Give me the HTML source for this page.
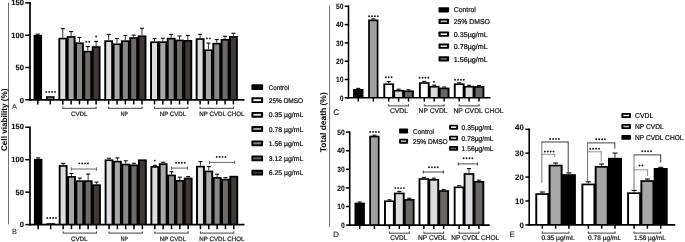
<!DOCTYPE html>
<html><head><meta charset="utf-8"><style>
html,body{margin:0;padding:0;background:#fff;}
body{width:685px;height:242px;overflow:hidden;}
svg{display:block;will-change:transform;text-rendering:geometricPrecision;font-family:"Liberation Sans", sans-serif;}
</style></head><body>
<svg width="685" height="242" viewBox="0 0 685 242">
<rect x="0" y="0" width="685" height="242" fill="#fff"/>
<line x1="8.50" y1="2.50" x2="8.50" y2="224.40" stroke="#707070" stroke-width="1.0"/>
<line x1="329.60" y1="5.30" x2="329.60" y2="227.00" stroke="#707070" stroke-width="1.0"/>
<line x1="37.80" y1="34.80" x2="37.80" y2="34.20" stroke="#333" stroke-width="1.0"/><line x1="35.80" y1="34.20" x2="39.80" y2="34.20" stroke="#111" stroke-width="1.15"/>
<rect x="33.55" y="34.80" width="8.50" height="65.00" fill="#000"/><rect x="46.00" y="96.20" width="8.60" height="3.60" fill="#000"/><rect x="58.38" y="37.75" width="8.83" height="62.05" fill="#000"/><rect x="66.71" y="36.10" width="8.83" height="63.70" fill="#000"/><rect x="75.04" y="42.40" width="8.83" height="57.40" fill="#000"/><rect x="83.37" y="50.80" width="8.83" height="49.00" fill="#000"/><rect x="91.70" y="46.20" width="8.83" height="53.60" fill="#000"/><rect x="104.28" y="40.30" width="8.83" height="59.50" fill="#000"/><rect x="112.61" y="43.40" width="8.83" height="56.40" fill="#000"/><rect x="120.94" y="40.30" width="8.83" height="59.50" fill="#000"/><rect x="129.28" y="37.20" width="8.83" height="62.60" fill="#000"/><rect x="137.61" y="35.40" width="8.83" height="64.40" fill="#000"/><rect x="150.09" y="41.40" width="8.83" height="58.40" fill="#000"/><rect x="158.42" y="41.30" width="8.83" height="58.50" fill="#000"/><rect x="166.75" y="37.80" width="8.83" height="62.00" fill="#000"/><rect x="175.08" y="39.60" width="8.83" height="60.20" fill="#000"/><rect x="183.41" y="40.00" width="8.83" height="59.80" fill="#000"/><rect x="195.69" y="38.20" width="8.83" height="61.60" fill="#000"/><rect x="204.02" y="49.40" width="8.83" height="50.40" fill="#000"/><rect x="212.34" y="42.80" width="8.83" height="57.00" fill="#000"/><rect x="220.68" y="38.90" width="8.83" height="60.90" fill="#000"/><rect x="229.00" y="36.10" width="8.83" height="63.70" fill="#000"/><rect x="47.50" y="97.70" width="5.60" height="2.10" fill="#777"/><rect x="60.28" y="39.40" width="5.03" height="60.40" fill="#dedede"/><rect x="68.61" y="37.75" width="5.03" height="62.05" fill="#a7a7a7"/><rect x="76.94" y="44.05" width="5.03" height="55.75" fill="#8a8787"/><rect x="85.27" y="52.45" width="5.03" height="47.35" fill="#6d6a69"/><rect x="93.61" y="47.85" width="5.03" height="51.95" fill="#403937"/><rect x="106.19" y="41.95" width="5.03" height="57.85" fill="#dedede"/><rect x="114.52" y="45.05" width="5.03" height="54.75" fill="#a7a7a7"/><rect x="122.84" y="41.95" width="5.03" height="57.85" fill="#8a8787"/><rect x="131.18" y="38.85" width="5.03" height="60.95" fill="#6d6a69"/><rect x="139.51" y="37.05" width="5.03" height="62.75" fill="#403937"/><rect x="151.99" y="43.05" width="5.03" height="56.75" fill="#dedede"/><rect x="160.32" y="42.95" width="5.03" height="56.85" fill="#a7a7a7"/><rect x="168.65" y="39.45" width="5.03" height="60.35" fill="#8a8787"/><rect x="176.98" y="41.25" width="5.03" height="58.55" fill="#6d6a69"/><rect x="185.31" y="41.65" width="5.03" height="58.15" fill="#403937"/><rect x="197.59" y="39.85" width="5.03" height="59.95" fill="#dedede"/><rect x="205.92" y="51.05" width="5.03" height="48.75" fill="#a7a7a7"/><rect x="214.25" y="44.45" width="5.03" height="55.35" fill="#8a8787"/><rect x="222.58" y="40.55" width="5.03" height="59.25" fill="#6d6a69"/><rect x="230.91" y="37.75" width="5.03" height="62.05" fill="#403937"/>
<line x1="62.80" y1="37.75" x2="62.80" y2="28.60" stroke="#333" stroke-width="1.0"/><line x1="60.80" y1="28.60" x2="64.80" y2="28.60" stroke="#111" stroke-width="1.15"/>
<line x1="71.13" y1="36.10" x2="71.13" y2="31.60" stroke="#333" stroke-width="1.0"/><line x1="69.13" y1="31.60" x2="73.13" y2="31.60" stroke="#111" stroke-width="1.15"/>
<line x1="79.46" y1="42.40" x2="79.46" y2="37.50" stroke="#333" stroke-width="1.0"/><line x1="77.46" y1="37.50" x2="81.46" y2="37.50" stroke="#111" stroke-width="1.15"/>
<line x1="87.79" y1="50.80" x2="87.79" y2="46.60" stroke="#333" stroke-width="1.0"/><line x1="85.79" y1="46.60" x2="89.79" y2="46.60" stroke="#111" stroke-width="1.15"/>
<line x1="96.12" y1="46.20" x2="96.12" y2="41.40" stroke="#333" stroke-width="1.0"/><line x1="94.12" y1="41.40" x2="98.12" y2="41.40" stroke="#111" stroke-width="1.15"/>
<line x1="108.70" y1="40.30" x2="108.70" y2="34.40" stroke="#333" stroke-width="1.0"/><line x1="106.70" y1="34.40" x2="110.70" y2="34.40" stroke="#111" stroke-width="1.15"/>
<line x1="117.03" y1="43.40" x2="117.03" y2="38.50" stroke="#333" stroke-width="1.0"/><line x1="115.03" y1="38.50" x2="119.03" y2="38.50" stroke="#111" stroke-width="1.15"/>
<line x1="125.36" y1="40.30" x2="125.36" y2="35.50" stroke="#333" stroke-width="1.0"/><line x1="123.36" y1="35.50" x2="127.36" y2="35.50" stroke="#111" stroke-width="1.15"/>
<line x1="133.69" y1="37.20" x2="133.69" y2="35.10" stroke="#333" stroke-width="1.0"/><line x1="131.69" y1="35.10" x2="135.69" y2="35.10" stroke="#111" stroke-width="1.15"/>
<line x1="142.02" y1="35.40" x2="142.02" y2="28.30" stroke="#333" stroke-width="1.0"/><line x1="140.02" y1="28.30" x2="144.02" y2="28.30" stroke="#111" stroke-width="1.15"/>
<line x1="154.50" y1="41.40" x2="154.50" y2="38.60" stroke="#333" stroke-width="1.0"/><line x1="152.50" y1="38.60" x2="156.50" y2="38.60" stroke="#111" stroke-width="1.15"/>
<line x1="162.83" y1="41.30" x2="162.83" y2="38.20" stroke="#333" stroke-width="1.0"/><line x1="160.83" y1="38.20" x2="164.83" y2="38.20" stroke="#111" stroke-width="1.15"/>
<line x1="171.16" y1="37.80" x2="171.16" y2="34.40" stroke="#333" stroke-width="1.0"/><line x1="169.16" y1="34.40" x2="173.16" y2="34.40" stroke="#111" stroke-width="1.15"/>
<line x1="179.49" y1="39.60" x2="179.49" y2="36.00" stroke="#333" stroke-width="1.0"/><line x1="177.49" y1="36.00" x2="181.49" y2="36.00" stroke="#111" stroke-width="1.15"/>
<line x1="187.82" y1="40.00" x2="187.82" y2="35.40" stroke="#333" stroke-width="1.0"/><line x1="185.82" y1="35.40" x2="189.82" y2="35.40" stroke="#111" stroke-width="1.15"/>
<line x1="200.10" y1="38.20" x2="200.10" y2="34.40" stroke="#333" stroke-width="1.0"/><line x1="198.10" y1="34.40" x2="202.10" y2="34.40" stroke="#111" stroke-width="1.15"/>
<line x1="208.43" y1="49.40" x2="208.43" y2="43.10" stroke="#333" stroke-width="1.0"/><line x1="206.43" y1="43.10" x2="210.43" y2="43.10" stroke="#111" stroke-width="1.15"/>
<line x1="216.76" y1="42.80" x2="216.76" y2="39.60" stroke="#333" stroke-width="1.0"/><line x1="214.76" y1="39.60" x2="218.76" y2="39.60" stroke="#111" stroke-width="1.15"/>
<line x1="225.09" y1="38.90" x2="225.09" y2="36.30" stroke="#333" stroke-width="1.0"/><line x1="223.09" y1="36.30" x2="227.09" y2="36.30" stroke="#111" stroke-width="1.15"/>
<line x1="233.42" y1="36.10" x2="233.42" y2="33.30" stroke="#333" stroke-width="1.0"/><line x1="231.42" y1="33.30" x2="235.42" y2="33.30" stroke="#111" stroke-width="1.15"/>
<line x1="30.00" y1="2.10" x2="30.00" y2="100.60" stroke="#000" stroke-width="1.7"/>
<line x1="29.20" y1="99.80" x2="244.50" y2="99.80" stroke="#000" stroke-width="1.7"/>
<line x1="25.30" y1="99.80" x2="30.00" y2="99.80" stroke="#000" stroke-width="1.5"/>
<text x="24.00" y="102.55" font-size="7.6" font-weight="bold" text-anchor="end" fill="#111" stroke="#111" stroke-width="0.12">0</text>
<line x1="25.30" y1="67.50" x2="30.00" y2="67.50" stroke="#000" stroke-width="1.5"/>
<text x="24.00" y="70.25" font-size="7.6" font-weight="bold" text-anchor="end" fill="#111" stroke="#111" stroke-width="0.12">50</text>
<line x1="25.30" y1="35.20" x2="30.00" y2="35.20" stroke="#000" stroke-width="1.5"/>
<text x="24.00" y="37.95" font-size="7.6" font-weight="bold" text-anchor="end" fill="#111" stroke="#111" stroke-width="0.12">100</text>
<line x1="25.30" y1="2.90" x2="30.00" y2="2.90" stroke="#000" stroke-width="1.5"/>
<text x="24.00" y="4.95" font-size="7.6" font-weight="bold" text-anchor="end" fill="#111" stroke="#111" stroke-width="0.12">150</text>
<line x1="37.80" y1="99.80" x2="37.80" y2="104.40" stroke="#000" stroke-width="1.5"/>
<line x1="50.30" y1="99.80" x2="50.30" y2="104.40" stroke="#000" stroke-width="1.5"/>
<line x1="62.80" y1="99.80" x2="62.80" y2="104.40" stroke="#000" stroke-width="1.5"/>
<line x1="71.13" y1="99.80" x2="71.13" y2="104.40" stroke="#000" stroke-width="1.5"/>
<line x1="79.46" y1="99.80" x2="79.46" y2="104.40" stroke="#000" stroke-width="1.5"/>
<line x1="87.79" y1="99.80" x2="87.79" y2="104.40" stroke="#000" stroke-width="1.5"/>
<line x1="96.12" y1="99.80" x2="96.12" y2="104.40" stroke="#000" stroke-width="1.5"/>
<line x1="108.70" y1="99.80" x2="108.70" y2="104.40" stroke="#000" stroke-width="1.5"/>
<line x1="117.03" y1="99.80" x2="117.03" y2="104.40" stroke="#000" stroke-width="1.5"/>
<line x1="125.36" y1="99.80" x2="125.36" y2="104.40" stroke="#000" stroke-width="1.5"/>
<line x1="133.69" y1="99.80" x2="133.69" y2="104.40" stroke="#000" stroke-width="1.5"/>
<line x1="142.02" y1="99.80" x2="142.02" y2="104.40" stroke="#000" stroke-width="1.5"/>
<line x1="154.50" y1="99.80" x2="154.50" y2="104.40" stroke="#000" stroke-width="1.5"/>
<line x1="162.83" y1="99.80" x2="162.83" y2="104.40" stroke="#000" stroke-width="1.5"/>
<line x1="171.16" y1="99.80" x2="171.16" y2="104.40" stroke="#000" stroke-width="1.5"/>
<line x1="179.49" y1="99.80" x2="179.49" y2="104.40" stroke="#000" stroke-width="1.5"/>
<line x1="187.82" y1="99.80" x2="187.82" y2="104.40" stroke="#000" stroke-width="1.5"/>
<line x1="200.10" y1="99.80" x2="200.10" y2="104.40" stroke="#000" stroke-width="1.5"/>
<line x1="208.43" y1="99.80" x2="208.43" y2="104.40" stroke="#000" stroke-width="1.5"/>
<line x1="216.76" y1="99.80" x2="216.76" y2="104.40" stroke="#000" stroke-width="1.5"/>
<line x1="225.09" y1="99.80" x2="225.09" y2="104.40" stroke="#000" stroke-width="1.5"/>
<line x1="233.42" y1="99.80" x2="233.42" y2="104.40" stroke="#000" stroke-width="1.5"/>
<line x1="62.80" y1="106.60" x2="62.80" y2="108.30" stroke="#444" stroke-width="1.0"/><line x1="96.12" y1="106.60" x2="96.12" y2="108.30" stroke="#444" stroke-width="1.0"/><line x1="62.30" y1="108.30" x2="96.62" y2="108.30" stroke="#444" stroke-width="1.0"/>
<text x="70.90" y="115.80" font-size="6.3" font-weight="normal" text-anchor="start" fill="#222" stroke="#222" stroke-width="0.22" textLength="16.60" lengthAdjust="spacingAndGlyphs">CVDL</text>
<line x1="108.70" y1="106.60" x2="108.70" y2="108.30" stroke="#444" stroke-width="1.0"/><line x1="142.02" y1="106.60" x2="142.02" y2="108.30" stroke="#444" stroke-width="1.0"/><line x1="108.20" y1="108.30" x2="142.52" y2="108.30" stroke="#444" stroke-width="1.0"/>
<text x="120.80" y="115.80" font-size="6.3" font-weight="normal" text-anchor="start" fill="#222" stroke="#222" stroke-width="0.22" textLength="7.10" lengthAdjust="spacingAndGlyphs">NP</text>
<line x1="154.50" y1="106.60" x2="154.50" y2="108.30" stroke="#444" stroke-width="1.0"/><line x1="187.82" y1="106.60" x2="187.82" y2="108.30" stroke="#444" stroke-width="1.0"/><line x1="154.00" y1="108.30" x2="188.32" y2="108.30" stroke="#444" stroke-width="1.0"/>
<text x="159.80" y="115.80" font-size="6.3" font-weight="normal" text-anchor="start" fill="#222" stroke="#222" stroke-width="0.22" textLength="26.30" lengthAdjust="spacingAndGlyphs">NP CVDL</text>
<line x1="200.10" y1="106.60" x2="200.10" y2="108.30" stroke="#444" stroke-width="1.0"/><line x1="233.42" y1="106.60" x2="233.42" y2="108.30" stroke="#444" stroke-width="1.0"/><line x1="199.60" y1="108.30" x2="233.92" y2="108.30" stroke="#444" stroke-width="1.0"/>
<text x="199.30" y="115.80" font-size="6.3" font-weight="normal" text-anchor="start" fill="#222" stroke="#222" stroke-width="0.22" textLength="45.20" lengthAdjust="spacingAndGlyphs">NP CVDL CHOL</text>
<circle cx="46.25" cy="91.90" r="0.95" fill="#1a1a1a"/><circle cx="49.15" cy="91.90" r="0.95" fill="#1a1a1a"/><circle cx="52.05" cy="91.90" r="0.95" fill="#1a1a1a"/><circle cx="54.95" cy="91.90" r="0.95" fill="#1a1a1a"/>
<circle cx="86.34" cy="41.70" r="0.95" fill="#1a1a1a"/><circle cx="89.24" cy="41.70" r="0.95" fill="#1a1a1a"/>
<circle cx="96.12" cy="36.40" r="0.95" fill="#1a1a1a"/>
<circle cx="206.98" cy="38.40" r="0.95" fill="#1a1a1a"/><circle cx="209.88" cy="38.40" r="0.95" fill="#1a1a1a"/>
<text x="12.00" y="109.00" font-size="7.3" font-weight="normal" text-anchor="start" fill="#555" stroke="#555" stroke-width="0.22">A</text>
<line x1="38.15" y1="158.90" x2="38.15" y2="157.90" stroke="#333" stroke-width="1.0"/><line x1="36.15" y1="157.90" x2="40.15" y2="157.90" stroke="#111" stroke-width="1.15"/>
<rect x="33.90" y="158.90" width="8.50" height="65.70" fill="#000"/><rect x="46.35" y="223.20" width="8.60" height="1.40" fill="#000"/><rect x="58.73" y="165.10" width="8.83" height="59.50" fill="#000"/><rect x="67.06" y="176.00" width="8.83" height="48.60" fill="#000"/><rect x="75.39" y="180.30" width="8.83" height="44.30" fill="#000"/><rect x="83.72" y="180.30" width="8.83" height="44.30" fill="#000"/><rect x="92.05" y="184.30" width="8.83" height="40.30" fill="#000"/><rect x="104.63" y="159.40" width="8.83" height="65.20" fill="#000"/><rect x="112.96" y="160.80" width="8.83" height="63.80" fill="#000"/><rect x="121.29" y="163.70" width="8.83" height="60.90" fill="#000"/><rect x="129.62" y="164.50" width="8.83" height="60.10" fill="#000"/><rect x="137.96" y="159.40" width="8.83" height="65.20" fill="#000"/><rect x="150.44" y="166.10" width="8.83" height="58.50" fill="#000"/><rect x="158.77" y="163.30" width="8.83" height="61.30" fill="#000"/><rect x="167.09" y="174.60" width="8.83" height="50.00" fill="#000"/><rect x="175.43" y="180.00" width="8.83" height="44.60" fill="#000"/><rect x="183.75" y="177.60" width="8.83" height="47.00" fill="#000"/><rect x="196.03" y="165.80" width="8.83" height="58.80" fill="#000"/><rect x="204.37" y="170.60" width="8.83" height="54.00" fill="#000"/><rect x="212.69" y="177.00" width="8.83" height="47.60" fill="#000"/><rect x="221.03" y="178.80" width="8.83" height="45.80" fill="#000"/><rect x="229.35" y="175.80" width="8.83" height="48.80" fill="#000"/><rect x="47.85" y="224.70" width="5.60" height="-0.10" fill="#777"/><rect x="60.63" y="166.75" width="5.03" height="57.85" fill="#dedede"/><rect x="68.96" y="177.65" width="5.03" height="46.95" fill="#a7a7a7"/><rect x="77.29" y="181.95" width="5.03" height="42.65" fill="#8a8787"/><rect x="85.62" y="181.95" width="5.03" height="42.65" fill="#6d6a69"/><rect x="93.95" y="185.95" width="5.03" height="38.65" fill="#403937"/><rect x="106.53" y="161.05" width="5.03" height="63.55" fill="#dedede"/><rect x="114.86" y="162.45" width="5.03" height="62.15" fill="#a7a7a7"/><rect x="123.19" y="165.35" width="5.03" height="59.25" fill="#8a8787"/><rect x="131.53" y="166.15" width="5.03" height="58.45" fill="#6d6a69"/><rect x="139.86" y="161.05" width="5.03" height="63.55" fill="#403937"/><rect x="152.34" y="167.75" width="5.03" height="56.85" fill="#dedede"/><rect x="160.67" y="164.95" width="5.03" height="59.65" fill="#a7a7a7"/><rect x="169.00" y="176.25" width="5.03" height="48.35" fill="#8a8787"/><rect x="177.33" y="181.65" width="5.03" height="42.95" fill="#6d6a69"/><rect x="185.66" y="179.25" width="5.03" height="45.35" fill="#403937"/><rect x="197.94" y="167.45" width="5.03" height="57.15" fill="#dedede"/><rect x="206.27" y="172.25" width="5.03" height="52.35" fill="#a7a7a7"/><rect x="214.59" y="178.65" width="5.03" height="45.95" fill="#8a8787"/><rect x="222.93" y="180.45" width="5.03" height="44.15" fill="#6d6a69"/><rect x="231.25" y="177.45" width="5.03" height="47.15" fill="#403937"/>
<line x1="63.15" y1="165.10" x2="63.15" y2="163.40" stroke="#333" stroke-width="1.0"/><line x1="61.15" y1="163.40" x2="65.15" y2="163.40" stroke="#111" stroke-width="1.15"/>
<line x1="71.48" y1="176.00" x2="71.48" y2="173.50" stroke="#333" stroke-width="1.0"/><line x1="69.48" y1="173.50" x2="73.48" y2="173.50" stroke="#111" stroke-width="1.15"/>
<line x1="79.81" y1="180.30" x2="79.81" y2="178.10" stroke="#333" stroke-width="1.0"/><line x1="77.81" y1="178.10" x2="81.81" y2="178.10" stroke="#111" stroke-width="1.15"/>
<line x1="88.14" y1="180.30" x2="88.14" y2="174.10" stroke="#333" stroke-width="1.0"/><line x1="86.14" y1="174.10" x2="90.14" y2="174.10" stroke="#111" stroke-width="1.15"/>
<line x1="96.47" y1="184.30" x2="96.47" y2="182.20" stroke="#333" stroke-width="1.0"/><line x1="94.47" y1="182.20" x2="98.47" y2="182.20" stroke="#111" stroke-width="1.15"/>
<line x1="109.05" y1="159.40" x2="109.05" y2="158.20" stroke="#333" stroke-width="1.0"/><line x1="107.05" y1="158.20" x2="111.05" y2="158.20" stroke="#111" stroke-width="1.15"/>
<line x1="117.38" y1="160.80" x2="117.38" y2="157.90" stroke="#333" stroke-width="1.0"/><line x1="115.38" y1="157.90" x2="119.38" y2="157.90" stroke="#111" stroke-width="1.15"/>
<line x1="125.71" y1="163.70" x2="125.71" y2="160.80" stroke="#333" stroke-width="1.0"/><line x1="123.71" y1="160.80" x2="127.71" y2="160.80" stroke="#111" stroke-width="1.15"/>
<line x1="134.04" y1="164.50" x2="134.04" y2="163.30" stroke="#333" stroke-width="1.0"/><line x1="132.04" y1="163.30" x2="136.04" y2="163.30" stroke="#111" stroke-width="1.15"/>
<line x1="154.85" y1="166.10" x2="154.85" y2="165.40" stroke="#333" stroke-width="1.0"/><line x1="152.85" y1="165.40" x2="156.85" y2="165.40" stroke="#111" stroke-width="1.15"/>
<line x1="163.18" y1="163.30" x2="163.18" y2="162.30" stroke="#333" stroke-width="1.0"/><line x1="161.18" y1="162.30" x2="165.18" y2="162.30" stroke="#111" stroke-width="1.15"/>
<line x1="171.51" y1="174.60" x2="171.51" y2="171.70" stroke="#333" stroke-width="1.0"/><line x1="169.51" y1="171.70" x2="173.51" y2="171.70" stroke="#111" stroke-width="1.15"/>
<line x1="179.84" y1="180.00" x2="179.84" y2="177.20" stroke="#333" stroke-width="1.0"/><line x1="177.84" y1="177.20" x2="181.84" y2="177.20" stroke="#111" stroke-width="1.15"/>
<line x1="188.17" y1="177.60" x2="188.17" y2="176.60" stroke="#333" stroke-width="1.0"/><line x1="186.17" y1="176.60" x2="190.17" y2="176.60" stroke="#111" stroke-width="1.15"/>
<line x1="200.45" y1="165.80" x2="200.45" y2="161.60" stroke="#333" stroke-width="1.0"/><line x1="198.45" y1="161.60" x2="202.45" y2="161.60" stroke="#111" stroke-width="1.15"/>
<line x1="208.78" y1="170.60" x2="208.78" y2="166.60" stroke="#333" stroke-width="1.0"/><line x1="206.78" y1="166.60" x2="210.78" y2="166.60" stroke="#111" stroke-width="1.15"/>
<line x1="217.11" y1="177.00" x2="217.11" y2="174.30" stroke="#333" stroke-width="1.0"/><line x1="215.11" y1="174.30" x2="219.11" y2="174.30" stroke="#111" stroke-width="1.15"/>
<line x1="225.44" y1="178.80" x2="225.44" y2="177.60" stroke="#333" stroke-width="1.0"/><line x1="223.44" y1="177.60" x2="227.44" y2="177.60" stroke="#111" stroke-width="1.15"/>
<line x1="30.00" y1="126.45" x2="30.00" y2="225.40" stroke="#000" stroke-width="1.7"/>
<line x1="29.20" y1="224.60" x2="244.50" y2="224.60" stroke="#000" stroke-width="1.7"/>
<line x1="25.30" y1="224.60" x2="30.00" y2="224.60" stroke="#000" stroke-width="1.5"/>
<text x="24.00" y="227.35" font-size="7.6" font-weight="bold" text-anchor="end" fill="#111" stroke="#111" stroke-width="0.12">0</text>
<line x1="25.30" y1="192.15" x2="30.00" y2="192.15" stroke="#000" stroke-width="1.5"/>
<text x="24.00" y="194.90" font-size="7.6" font-weight="bold" text-anchor="end" fill="#111" stroke="#111" stroke-width="0.12">50</text>
<line x1="25.30" y1="159.70" x2="30.00" y2="159.70" stroke="#000" stroke-width="1.5"/>
<text x="24.00" y="162.45" font-size="7.6" font-weight="bold" text-anchor="end" fill="#111" stroke="#111" stroke-width="0.12">100</text>
<line x1="25.30" y1="127.25" x2="30.00" y2="127.25" stroke="#000" stroke-width="1.5"/>
<text x="24.00" y="129.30" font-size="7.6" font-weight="bold" text-anchor="end" fill="#111" stroke="#111" stroke-width="0.12">150</text>
<line x1="38.15" y1="224.60" x2="38.15" y2="229.20" stroke="#000" stroke-width="1.5"/>
<line x1="50.65" y1="224.60" x2="50.65" y2="229.20" stroke="#000" stroke-width="1.5"/>
<line x1="63.15" y1="224.60" x2="63.15" y2="229.20" stroke="#000" stroke-width="1.5"/>
<line x1="71.48" y1="224.60" x2="71.48" y2="229.20" stroke="#000" stroke-width="1.5"/>
<line x1="79.81" y1="224.60" x2="79.81" y2="229.20" stroke="#000" stroke-width="1.5"/>
<line x1="88.14" y1="224.60" x2="88.14" y2="229.20" stroke="#000" stroke-width="1.5"/>
<line x1="96.47" y1="224.60" x2="96.47" y2="229.20" stroke="#000" stroke-width="1.5"/>
<line x1="109.05" y1="224.60" x2="109.05" y2="229.20" stroke="#000" stroke-width="1.5"/>
<line x1="117.38" y1="224.60" x2="117.38" y2="229.20" stroke="#000" stroke-width="1.5"/>
<line x1="125.71" y1="224.60" x2="125.71" y2="229.20" stroke="#000" stroke-width="1.5"/>
<line x1="134.04" y1="224.60" x2="134.04" y2="229.20" stroke="#000" stroke-width="1.5"/>
<line x1="142.37" y1="224.60" x2="142.37" y2="229.20" stroke="#000" stroke-width="1.5"/>
<line x1="154.85" y1="224.60" x2="154.85" y2="229.20" stroke="#000" stroke-width="1.5"/>
<line x1="163.18" y1="224.60" x2="163.18" y2="229.20" stroke="#000" stroke-width="1.5"/>
<line x1="171.51" y1="224.60" x2="171.51" y2="229.20" stroke="#000" stroke-width="1.5"/>
<line x1="179.84" y1="224.60" x2="179.84" y2="229.20" stroke="#000" stroke-width="1.5"/>
<line x1="188.17" y1="224.60" x2="188.17" y2="229.20" stroke="#000" stroke-width="1.5"/>
<line x1="200.45" y1="224.60" x2="200.45" y2="229.20" stroke="#000" stroke-width="1.5"/>
<line x1="208.78" y1="224.60" x2="208.78" y2="229.20" stroke="#000" stroke-width="1.5"/>
<line x1="217.11" y1="224.60" x2="217.11" y2="229.20" stroke="#000" stroke-width="1.5"/>
<line x1="225.44" y1="224.60" x2="225.44" y2="229.20" stroke="#000" stroke-width="1.5"/>
<line x1="233.77" y1="224.60" x2="233.77" y2="229.20" stroke="#000" stroke-width="1.5"/>
<line x1="63.15" y1="231.40" x2="63.15" y2="233.10" stroke="#444" stroke-width="1.0"/><line x1="96.47" y1="231.40" x2="96.47" y2="233.10" stroke="#444" stroke-width="1.0"/><line x1="62.65" y1="233.10" x2="96.97" y2="233.10" stroke="#444" stroke-width="1.0"/>
<text x="70.90" y="240.60" font-size="6.3" font-weight="normal" text-anchor="start" fill="#222" stroke="#222" stroke-width="0.22" textLength="16.60" lengthAdjust="spacingAndGlyphs">CVDL</text>
<line x1="109.05" y1="231.40" x2="109.05" y2="233.10" stroke="#444" stroke-width="1.0"/><line x1="142.37" y1="231.40" x2="142.37" y2="233.10" stroke="#444" stroke-width="1.0"/><line x1="108.55" y1="233.10" x2="142.87" y2="233.10" stroke="#444" stroke-width="1.0"/>
<text x="120.80" y="240.60" font-size="6.3" font-weight="normal" text-anchor="start" fill="#222" stroke="#222" stroke-width="0.22" textLength="7.10" lengthAdjust="spacingAndGlyphs">NP</text>
<line x1="154.85" y1="231.40" x2="154.85" y2="233.10" stroke="#444" stroke-width="1.0"/><line x1="188.17" y1="231.40" x2="188.17" y2="233.10" stroke="#444" stroke-width="1.0"/><line x1="154.35" y1="233.10" x2="188.67" y2="233.10" stroke="#444" stroke-width="1.0"/>
<text x="159.80" y="240.60" font-size="6.3" font-weight="normal" text-anchor="start" fill="#222" stroke="#222" stroke-width="0.22" textLength="26.30" lengthAdjust="spacingAndGlyphs">NP CVDL</text>
<line x1="200.45" y1="231.40" x2="200.45" y2="233.10" stroke="#444" stroke-width="1.0"/><line x1="233.77" y1="231.40" x2="233.77" y2="233.10" stroke="#444" stroke-width="1.0"/><line x1="199.95" y1="233.10" x2="234.27" y2="233.10" stroke="#444" stroke-width="1.0"/>
<text x="199.30" y="240.60" font-size="6.3" font-weight="normal" text-anchor="start" fill="#222" stroke="#222" stroke-width="0.22" textLength="45.20" lengthAdjust="spacingAndGlyphs">NP CVDL CHOL</text>
<circle cx="47.25" cy="218.00" r="0.95" fill="#1a1a1a"/><circle cx="50.15" cy="218.00" r="0.95" fill="#1a1a1a"/><circle cx="53.05" cy="218.00" r="0.95" fill="#1a1a1a"/><circle cx="55.95" cy="218.00" r="0.95" fill="#1a1a1a"/>
<line x1="71.30" y1="167.30" x2="71.30" y2="170.70" stroke="#555" stroke-width="0.9"/><line x1="96.60" y1="167.30" x2="96.60" y2="170.70" stroke="#555" stroke-width="0.9"/><line x1="71.30" y1="169.00" x2="96.60" y2="169.00" stroke="#555" stroke-width="0.9"/>
<circle cx="79.25" cy="163.40" r="0.95" fill="#1a1a1a"/><circle cx="82.15" cy="163.40" r="0.95" fill="#1a1a1a"/><circle cx="85.05" cy="163.40" r="0.95" fill="#1a1a1a"/><circle cx="87.95" cy="163.40" r="0.95" fill="#1a1a1a"/>
<circle cx="154.80" cy="160.60" r="0.95" fill="#1a1a1a"/>
<line x1="171.40" y1="166.40" x2="171.40" y2="169.80" stroke="#555" stroke-width="0.9"/><line x1="187.60" y1="166.40" x2="187.60" y2="169.80" stroke="#555" stroke-width="0.9"/><line x1="171.40" y1="168.10" x2="187.60" y2="168.10" stroke="#555" stroke-width="0.9"/>
<circle cx="176.05" cy="162.70" r="0.95" fill="#1a1a1a"/><circle cx="178.95" cy="162.70" r="0.95" fill="#1a1a1a"/><circle cx="181.85" cy="162.70" r="0.95" fill="#1a1a1a"/><circle cx="184.75" cy="162.70" r="0.95" fill="#1a1a1a"/>
<line x1="209.40" y1="160.70" x2="209.40" y2="164.10" stroke="#555" stroke-width="0.9"/><line x1="234.60" y1="160.70" x2="234.60" y2="164.10" stroke="#555" stroke-width="0.9"/><line x1="209.40" y1="162.40" x2="234.60" y2="162.40" stroke="#555" stroke-width="0.9"/>
<circle cx="216.75" cy="156.90" r="0.95" fill="#1a1a1a"/><circle cx="219.65" cy="156.90" r="0.95" fill="#1a1a1a"/><circle cx="222.55" cy="156.90" r="0.95" fill="#1a1a1a"/><circle cx="225.45" cy="156.90" r="0.95" fill="#1a1a1a"/>
<text x="12.00" y="234.10" font-size="7.3" font-weight="normal" text-anchor="start" fill="#555" stroke="#555" stroke-width="0.22">B</text>
<text transform="translate(7.0,119.8) rotate(-90)" font-size="8.3" font-weight="bold" text-anchor="middle" fill="#000" textLength="62.5" lengthAdjust="spacingAndGlyphs">Cell viability (%)</text>
<rect x="251.4" y="84.30" width="11.7" height="5.8" rx="0.9" fill="#000"/>
<text x="268.80" y="89.80" font-size="6.9" font-weight="normal" text-anchor="start" fill="#111" stroke="#111" stroke-width="0.22" textLength="20.30" lengthAdjust="spacingAndGlyphs">Control</text>
<rect x="251.4" y="97.30" width="11.7" height="5.8" rx="0.9" fill="#000"/>
<rect x="253.40" y="99.25" width="7.70" height="1.90" fill="#fff"/>
<text x="268.80" y="102.80" font-size="6.9" font-weight="normal" text-anchor="start" fill="#111" stroke="#111" stroke-width="0.22" textLength="34.40" lengthAdjust="spacingAndGlyphs">25% DMSO</text>
<rect x="251.4" y="111.90" width="11.7" height="5.8" rx="0.9" fill="#000"/>
<rect x="253.40" y="113.85" width="7.70" height="1.90" fill="#dedede"/>
<text x="268.80" y="117.40" font-size="6.9" font-weight="normal" text-anchor="start" fill="#111" stroke="#111" stroke-width="0.22" textLength="34.40" lengthAdjust="spacingAndGlyphs">0.35 &#181;g/mL</text>
<rect x="251.4" y="126.10" width="11.7" height="5.8" rx="0.9" fill="#000"/>
<rect x="253.40" y="128.05" width="7.70" height="1.90" fill="#a7a7a7"/>
<text x="268.80" y="131.60" font-size="6.9" font-weight="normal" text-anchor="start" fill="#111" stroke="#111" stroke-width="0.22" textLength="34.40" lengthAdjust="spacingAndGlyphs">0.78 &#181;g/mL</text>
<rect x="251.4" y="140.40" width="11.7" height="5.8" rx="0.9" fill="#000"/>
<rect x="253.40" y="142.35" width="7.70" height="1.90" fill="#8a8787"/>
<text x="268.80" y="145.90" font-size="6.9" font-weight="normal" text-anchor="start" fill="#111" stroke="#111" stroke-width="0.22" textLength="34.40" lengthAdjust="spacingAndGlyphs">1.56 &#181;g/mL</text>
<rect x="251.4" y="155.50" width="11.7" height="5.8" rx="0.9" fill="#000"/>
<rect x="253.40" y="157.45" width="7.70" height="1.90" fill="#6d6a69"/>
<text x="268.80" y="161.00" font-size="6.9" font-weight="normal" text-anchor="start" fill="#111" stroke="#111" stroke-width="0.22" textLength="34.40" lengthAdjust="spacingAndGlyphs">3.12 &#181;g/mL</text>
<rect x="251.4" y="169.80" width="11.7" height="5.8" rx="0.9" fill="#000"/>
<rect x="253.40" y="171.75" width="7.70" height="1.90" fill="#403937"/>
<text x="268.80" y="175.30" font-size="6.9" font-weight="normal" text-anchor="start" fill="#111" stroke="#111" stroke-width="0.22" textLength="34.40" lengthAdjust="spacingAndGlyphs">6.25 &#181;g/mL</text>
<line x1="358.25" y1="89.00" x2="358.25" y2="88.40" stroke="#333" stroke-width="1.0"/><line x1="356.25" y1="88.40" x2="360.25" y2="88.40" stroke="#111" stroke-width="1.15"/>
<line x1="373.30" y1="19.50" x2="373.30" y2="18.90" stroke="#333" stroke-width="1.0"/><line x1="371.30" y1="18.90" x2="375.30" y2="18.90" stroke="#111" stroke-width="1.15"/>
<rect x="353.05" y="89.00" width="10.40" height="8.80" fill="#000"/><rect x="368.15" y="19.50" width="10.30" height="78.30" fill="#000"/><rect x="383.32" y="83.40" width="10.75" height="14.40" fill="#000"/><rect x="393.22" y="89.90" width="10.75" height="7.90" fill="#000"/><rect x="403.12" y="90.40" width="10.75" height="7.40" fill="#000"/><rect x="418.93" y="82.20" width="10.75" height="15.60" fill="#000"/><rect x="428.82" y="85.90" width="10.75" height="11.90" fill="#000"/><rect x="438.73" y="87.60" width="10.75" height="10.20" fill="#000"/><rect x="453.82" y="83.40" width="10.75" height="14.40" fill="#000"/><rect x="463.72" y="85.90" width="10.75" height="11.90" fill="#000"/><rect x="473.62" y="86.10" width="10.75" height="11.70" fill="#000"/><rect x="369.85" y="21.20" width="6.90" height="76.60" fill="#a0a0a0"/><rect x="385.22" y="85.05" width="6.95" height="12.75" fill="#ffffff"/><rect x="395.12" y="91.55" width="6.95" height="6.25" fill="#dcdcdc"/><rect x="405.02" y="92.05" width="6.95" height="5.75" fill="#6a6664"/><rect x="420.82" y="83.85" width="6.95" height="13.95" fill="#ffffff"/><rect x="430.72" y="87.55" width="6.95" height="10.25" fill="#dcdcdc"/><rect x="440.62" y="89.25" width="6.95" height="8.55" fill="#6a6664"/><rect x="455.72" y="85.05" width="6.95" height="12.75" fill="#ffffff"/><rect x="465.62" y="87.55" width="6.95" height="10.25" fill="#dcdcdc"/><rect x="475.52" y="87.75" width="6.95" height="10.05" fill="#6a6664"/>
<line x1="388.70" y1="83.40" x2="388.70" y2="81.60" stroke="#333" stroke-width="1.0"/><line x1="386.70" y1="81.60" x2="390.70" y2="81.60" stroke="#111" stroke-width="1.15"/>
<line x1="398.60" y1="89.90" x2="398.60" y2="89.20" stroke="#333" stroke-width="1.0"/><line x1="396.60" y1="89.20" x2="400.60" y2="89.20" stroke="#111" stroke-width="1.15"/>
<line x1="408.50" y1="90.40" x2="408.50" y2="89.80" stroke="#333" stroke-width="1.0"/><line x1="406.50" y1="89.80" x2="410.50" y2="89.80" stroke="#111" stroke-width="1.15"/>
<line x1="424.30" y1="82.20" x2="424.30" y2="81.40" stroke="#333" stroke-width="1.0"/><line x1="422.30" y1="81.40" x2="426.30" y2="81.40" stroke="#111" stroke-width="1.15"/>
<line x1="434.20" y1="85.90" x2="434.20" y2="85.20" stroke="#333" stroke-width="1.0"/><line x1="432.20" y1="85.20" x2="436.20" y2="85.20" stroke="#111" stroke-width="1.15"/>
<line x1="444.10" y1="87.60" x2="444.10" y2="87.00" stroke="#333" stroke-width="1.0"/><line x1="442.10" y1="87.00" x2="446.10" y2="87.00" stroke="#111" stroke-width="1.15"/>
<line x1="459.20" y1="83.40" x2="459.20" y2="82.80" stroke="#333" stroke-width="1.0"/><line x1="457.20" y1="82.80" x2="461.20" y2="82.80" stroke="#111" stroke-width="1.15"/>
<line x1="469.10" y1="85.90" x2="469.10" y2="85.30" stroke="#333" stroke-width="1.0"/><line x1="467.10" y1="85.30" x2="471.10" y2="85.30" stroke="#111" stroke-width="1.15"/>
<line x1="479.00" y1="86.10" x2="479.00" y2="85.50" stroke="#333" stroke-width="1.0"/><line x1="477.00" y1="85.50" x2="481.00" y2="85.50" stroke="#111" stroke-width="1.15"/>
<line x1="348.50" y1="5.50" x2="348.50" y2="98.60" stroke="#000" stroke-width="1.6"/>
<line x1="347.70" y1="97.80" x2="490.50" y2="97.80" stroke="#000" stroke-width="1.6"/>
<line x1="344.70" y1="97.80" x2="348.50" y2="97.80" stroke="#000" stroke-width="1.5"/>
<text x="343.50" y="100.55" font-size="7.7" font-weight="bold" text-anchor="end" fill="#111" stroke="#111" stroke-width="0.12" textLength="3.75" lengthAdjust="spacingAndGlyphs">0</text>
<line x1="344.70" y1="79.50" x2="348.50" y2="79.50" stroke="#000" stroke-width="1.5"/>
<text x="343.50" y="82.25" font-size="7.7" font-weight="bold" text-anchor="end" fill="#111" stroke="#111" stroke-width="0.12" textLength="7.50" lengthAdjust="spacingAndGlyphs">10</text>
<line x1="344.70" y1="61.20" x2="348.50" y2="61.20" stroke="#000" stroke-width="1.5"/>
<text x="343.50" y="63.95" font-size="7.7" font-weight="bold" text-anchor="end" fill="#111" stroke="#111" stroke-width="0.12" textLength="7.50" lengthAdjust="spacingAndGlyphs">20</text>
<line x1="344.70" y1="42.90" x2="348.50" y2="42.90" stroke="#000" stroke-width="1.5"/>
<text x="343.50" y="45.65" font-size="7.7" font-weight="bold" text-anchor="end" fill="#111" stroke="#111" stroke-width="0.12" textLength="7.50" lengthAdjust="spacingAndGlyphs">30</text>
<line x1="344.70" y1="24.60" x2="348.50" y2="24.60" stroke="#000" stroke-width="1.5"/>
<text x="343.50" y="27.35" font-size="7.7" font-weight="bold" text-anchor="end" fill="#111" stroke="#111" stroke-width="0.12" textLength="7.50" lengthAdjust="spacingAndGlyphs">40</text>
<line x1="344.70" y1="6.30" x2="348.50" y2="6.30" stroke="#000" stroke-width="1.5"/>
<text x="343.50" y="9.05" font-size="7.7" font-weight="bold" text-anchor="end" fill="#111" stroke="#111" stroke-width="0.12" textLength="7.50" lengthAdjust="spacingAndGlyphs">50</text>
<line x1="358.25" y1="97.80" x2="358.25" y2="101.60" stroke="#000" stroke-width="1.5"/>
<line x1="373.30" y1="97.80" x2="373.30" y2="101.60" stroke="#000" stroke-width="1.5"/>
<line x1="388.70" y1="97.80" x2="388.70" y2="101.60" stroke="#000" stroke-width="1.5"/>
<line x1="398.60" y1="97.80" x2="398.60" y2="101.60" stroke="#000" stroke-width="1.5"/>
<line x1="408.50" y1="97.80" x2="408.50" y2="101.60" stroke="#000" stroke-width="1.5"/>
<line x1="424.30" y1="97.80" x2="424.30" y2="101.60" stroke="#000" stroke-width="1.5"/>
<line x1="434.20" y1="97.80" x2="434.20" y2="101.60" stroke="#000" stroke-width="1.5"/>
<line x1="444.10" y1="97.80" x2="444.10" y2="101.60" stroke="#000" stroke-width="1.5"/>
<line x1="459.20" y1="97.80" x2="459.20" y2="101.60" stroke="#000" stroke-width="1.5"/>
<line x1="469.10" y1="97.80" x2="469.10" y2="101.60" stroke="#000" stroke-width="1.5"/>
<line x1="479.00" y1="97.80" x2="479.00" y2="101.60" stroke="#000" stroke-width="1.5"/>
<line x1="388.70" y1="104.20" x2="388.70" y2="105.90" stroke="#444" stroke-width="1.0"/><line x1="408.50" y1="104.20" x2="408.50" y2="105.90" stroke="#444" stroke-width="1.0"/><line x1="388.20" y1="105.90" x2="409.00" y2="105.90" stroke="#444" stroke-width="1.0"/>
<text x="389.90" y="113.20" font-size="6.8" font-weight="normal" text-anchor="start" fill="#222" stroke="#222" stroke-width="0.22" textLength="18.20" lengthAdjust="spacingAndGlyphs">CVDL</text>
<line x1="424.30" y1="104.20" x2="424.30" y2="105.90" stroke="#444" stroke-width="1.0"/><line x1="444.10" y1="104.20" x2="444.10" y2="105.90" stroke="#444" stroke-width="1.0"/><line x1="423.80" y1="105.90" x2="444.60" y2="105.90" stroke="#444" stroke-width="1.0"/>
<text x="418.60" y="113.20" font-size="6.8" font-weight="normal" text-anchor="start" fill="#222" stroke="#222" stroke-width="0.22" textLength="29.00" lengthAdjust="spacingAndGlyphs">NP CVDL</text>
<line x1="459.20" y1="104.20" x2="459.20" y2="105.90" stroke="#444" stroke-width="1.0"/><line x1="479.00" y1="104.20" x2="479.00" y2="105.90" stroke="#444" stroke-width="1.0"/><line x1="458.70" y1="105.90" x2="479.50" y2="105.90" stroke="#444" stroke-width="1.0"/>
<text x="453.40" y="113.20" font-size="6.8" font-weight="normal" text-anchor="start" fill="#222" stroke="#222" stroke-width="0.22" textLength="50.10" lengthAdjust="spacingAndGlyphs">NP CVDL CHOL</text>
<circle cx="369.05" cy="16.30" r="0.95" fill="#1a1a1a"/><circle cx="371.95" cy="16.30" r="0.95" fill="#1a1a1a"/><circle cx="374.85" cy="16.30" r="0.95" fill="#1a1a1a"/><circle cx="377.75" cy="16.30" r="0.95" fill="#1a1a1a"/>
<circle cx="385.80" cy="77.20" r="0.95" fill="#1a1a1a"/><circle cx="388.70" cy="77.20" r="0.95" fill="#1a1a1a"/><circle cx="391.60" cy="77.20" r="0.95" fill="#1a1a1a"/>
<circle cx="419.65" cy="77.70" r="0.95" fill="#1a1a1a"/><circle cx="422.55" cy="77.70" r="0.95" fill="#1a1a1a"/><circle cx="425.45" cy="77.70" r="0.95" fill="#1a1a1a"/><circle cx="428.35" cy="77.70" r="0.95" fill="#1a1a1a"/>
<circle cx="434.00" cy="81.80" r="0.95" fill="#1a1a1a"/>
<circle cx="455.05" cy="79.80" r="0.95" fill="#1a1a1a"/><circle cx="457.95" cy="79.80" r="0.95" fill="#1a1a1a"/><circle cx="460.85" cy="79.80" r="0.95" fill="#1a1a1a"/><circle cx="463.75" cy="79.80" r="0.95" fill="#1a1a1a"/>
<line x1="359.70" y1="202.60" x2="359.70" y2="202.00" stroke="#333" stroke-width="1.0"/><line x1="357.70" y1="202.00" x2="361.70" y2="202.00" stroke="#111" stroke-width="1.15"/>
<line x1="374.40" y1="135.70" x2="374.40" y2="135.20" stroke="#333" stroke-width="1.0"/><line x1="372.40" y1="135.20" x2="376.40" y2="135.20" stroke="#111" stroke-width="1.15"/>
<rect x="354.50" y="202.60" width="10.40" height="22.50" fill="#000"/><rect x="369.25" y="135.70" width="10.30" height="89.40" fill="#000"/><rect x="384.02" y="200.40" width="10.75" height="24.70" fill="#000"/><rect x="393.92" y="192.60" width="10.75" height="32.50" fill="#000"/><rect x="403.82" y="199.00" width="10.75" height="26.10" fill="#000"/><rect x="418.52" y="178.20" width="10.75" height="46.90" fill="#000"/><rect x="428.42" y="179.00" width="10.75" height="46.10" fill="#000"/><rect x="438.32" y="190.20" width="10.75" height="34.90" fill="#000"/><rect x="453.73" y="186.50" width="10.75" height="38.60" fill="#000"/><rect x="463.62" y="173.20" width="10.75" height="51.90" fill="#000"/><rect x="473.53" y="181.00" width="10.75" height="44.10" fill="#000"/><rect x="370.95" y="137.40" width="6.90" height="87.70" fill="#a0a0a0"/><rect x="385.92" y="202.05" width="6.95" height="23.05" fill="#ffffff"/><rect x="395.82" y="194.25" width="6.95" height="30.85" fill="#dcdcdc"/><rect x="405.72" y="200.65" width="6.95" height="24.45" fill="#6a6664"/><rect x="420.42" y="179.85" width="6.95" height="45.25" fill="#ffffff"/><rect x="430.32" y="180.65" width="6.95" height="44.45" fill="#dcdcdc"/><rect x="440.22" y="191.85" width="6.95" height="33.25" fill="#6a6664"/><rect x="455.62" y="188.15" width="6.95" height="36.95" fill="#ffffff"/><rect x="465.52" y="174.85" width="6.95" height="50.25" fill="#dcdcdc"/><rect x="475.43" y="182.65" width="6.95" height="42.45" fill="#6a6664"/>
<line x1="389.40" y1="200.40" x2="389.40" y2="199.80" stroke="#333" stroke-width="1.0"/><line x1="387.40" y1="199.80" x2="391.40" y2="199.80" stroke="#111" stroke-width="1.15"/>
<line x1="399.30" y1="192.60" x2="399.30" y2="191.40" stroke="#333" stroke-width="1.0"/><line x1="397.30" y1="191.40" x2="401.30" y2="191.40" stroke="#111" stroke-width="1.15"/>
<line x1="409.20" y1="199.00" x2="409.20" y2="198.20" stroke="#333" stroke-width="1.0"/><line x1="407.20" y1="198.20" x2="411.20" y2="198.20" stroke="#111" stroke-width="1.15"/>
<line x1="423.90" y1="178.20" x2="423.90" y2="177.40" stroke="#333" stroke-width="1.0"/><line x1="421.90" y1="177.40" x2="425.90" y2="177.40" stroke="#111" stroke-width="1.15"/>
<line x1="433.80" y1="179.00" x2="433.80" y2="178.20" stroke="#333" stroke-width="1.0"/><line x1="431.80" y1="178.20" x2="435.80" y2="178.20" stroke="#111" stroke-width="1.15"/>
<line x1="443.70" y1="190.20" x2="443.70" y2="189.50" stroke="#333" stroke-width="1.0"/><line x1="441.70" y1="189.50" x2="445.70" y2="189.50" stroke="#111" stroke-width="1.15"/>
<line x1="459.10" y1="186.50" x2="459.10" y2="185.70" stroke="#333" stroke-width="1.0"/><line x1="457.10" y1="185.70" x2="461.10" y2="185.70" stroke="#111" stroke-width="1.15"/>
<line x1="469.00" y1="173.20" x2="469.00" y2="168.60" stroke="#333" stroke-width="1.0"/><line x1="467.00" y1="168.60" x2="471.00" y2="168.60" stroke="#111" stroke-width="1.15"/>
<line x1="478.90" y1="181.00" x2="478.90" y2="180.20" stroke="#333" stroke-width="1.0"/><line x1="476.90" y1="180.20" x2="480.90" y2="180.20" stroke="#111" stroke-width="1.15"/>
<line x1="349.70" y1="131.30" x2="349.70" y2="225.90" stroke="#000" stroke-width="1.6"/>
<line x1="348.90" y1="225.10" x2="489.70" y2="225.10" stroke="#000" stroke-width="1.6"/>
<line x1="345.90" y1="225.10" x2="349.70" y2="225.10" stroke="#000" stroke-width="1.5"/>
<text x="344.70" y="227.85" font-size="7.7" font-weight="bold" text-anchor="end" fill="#111" stroke="#111" stroke-width="0.12" textLength="3.75" lengthAdjust="spacingAndGlyphs">0</text>
<line x1="345.90" y1="206.50" x2="349.70" y2="206.50" stroke="#000" stroke-width="1.5"/>
<text x="344.70" y="209.25" font-size="7.7" font-weight="bold" text-anchor="end" fill="#111" stroke="#111" stroke-width="0.12" textLength="7.50" lengthAdjust="spacingAndGlyphs">10</text>
<line x1="345.90" y1="187.90" x2="349.70" y2="187.90" stroke="#000" stroke-width="1.5"/>
<text x="344.70" y="190.65" font-size="7.7" font-weight="bold" text-anchor="end" fill="#111" stroke="#111" stroke-width="0.12" textLength="7.50" lengthAdjust="spacingAndGlyphs">20</text>
<line x1="345.90" y1="169.30" x2="349.70" y2="169.30" stroke="#000" stroke-width="1.5"/>
<text x="344.70" y="172.05" font-size="7.7" font-weight="bold" text-anchor="end" fill="#111" stroke="#111" stroke-width="0.12" textLength="7.50" lengthAdjust="spacingAndGlyphs">30</text>
<line x1="345.90" y1="150.70" x2="349.70" y2="150.70" stroke="#000" stroke-width="1.5"/>
<text x="344.70" y="153.45" font-size="7.7" font-weight="bold" text-anchor="end" fill="#111" stroke="#111" stroke-width="0.12" textLength="7.50" lengthAdjust="spacingAndGlyphs">40</text>
<line x1="345.90" y1="132.10" x2="349.70" y2="132.10" stroke="#000" stroke-width="1.5"/>
<text x="344.70" y="134.85" font-size="7.7" font-weight="bold" text-anchor="end" fill="#111" stroke="#111" stroke-width="0.12" textLength="7.50" lengthAdjust="spacingAndGlyphs">50</text>
<line x1="359.70" y1="225.10" x2="359.70" y2="228.90" stroke="#000" stroke-width="1.5"/>
<line x1="374.40" y1="225.10" x2="374.40" y2="228.90" stroke="#000" stroke-width="1.5"/>
<line x1="389.40" y1="225.10" x2="389.40" y2="228.90" stroke="#000" stroke-width="1.5"/>
<line x1="399.30" y1="225.10" x2="399.30" y2="228.90" stroke="#000" stroke-width="1.5"/>
<line x1="409.20" y1="225.10" x2="409.20" y2="228.90" stroke="#000" stroke-width="1.5"/>
<line x1="423.90" y1="225.10" x2="423.90" y2="228.90" stroke="#000" stroke-width="1.5"/>
<line x1="433.80" y1="225.10" x2="433.80" y2="228.90" stroke="#000" stroke-width="1.5"/>
<line x1="443.70" y1="225.10" x2="443.70" y2="228.90" stroke="#000" stroke-width="1.5"/>
<line x1="459.10" y1="225.10" x2="459.10" y2="228.90" stroke="#000" stroke-width="1.5"/>
<line x1="469.00" y1="225.10" x2="469.00" y2="228.90" stroke="#000" stroke-width="1.5"/>
<line x1="478.90" y1="225.10" x2="478.90" y2="228.90" stroke="#000" stroke-width="1.5"/>
<line x1="389.40" y1="231.50" x2="389.40" y2="233.20" stroke="#444" stroke-width="1.0"/><line x1="409.20" y1="231.50" x2="409.20" y2="233.20" stroke="#444" stroke-width="1.0"/><line x1="388.90" y1="233.20" x2="409.70" y2="233.20" stroke="#444" stroke-width="1.0"/>
<text x="390.20" y="240.00" font-size="6.8" font-weight="normal" text-anchor="start" fill="#222" stroke="#222" stroke-width="0.22" textLength="17.10" lengthAdjust="spacingAndGlyphs">CVDL</text>
<line x1="423.90" y1="231.50" x2="423.90" y2="233.20" stroke="#444" stroke-width="1.0"/><line x1="443.70" y1="231.50" x2="443.70" y2="233.20" stroke="#444" stroke-width="1.0"/><line x1="423.40" y1="233.20" x2="444.20" y2="233.20" stroke="#444" stroke-width="1.0"/>
<text x="418.00" y="240.00" font-size="6.8" font-weight="normal" text-anchor="start" fill="#222" stroke="#222" stroke-width="0.22" textLength="28.50" lengthAdjust="spacingAndGlyphs">NP CVDL</text>
<line x1="459.10" y1="231.50" x2="459.10" y2="233.20" stroke="#444" stroke-width="1.0"/><line x1="478.90" y1="231.50" x2="478.90" y2="233.20" stroke="#444" stroke-width="1.0"/><line x1="458.60" y1="233.20" x2="479.40" y2="233.20" stroke="#444" stroke-width="1.0"/>
<text x="451.30" y="240.00" font-size="6.8" font-weight="normal" text-anchor="start" fill="#222" stroke="#222" stroke-width="0.22" textLength="47.90" lengthAdjust="spacingAndGlyphs">NP CVDL CHOL</text>
<circle cx="370.15" cy="131.90" r="0.95" fill="#1a1a1a"/><circle cx="373.05" cy="131.90" r="0.95" fill="#1a1a1a"/><circle cx="375.95" cy="131.90" r="0.95" fill="#1a1a1a"/><circle cx="378.85" cy="131.90" r="0.95" fill="#1a1a1a"/>
<circle cx="395.25" cy="188.10" r="0.95" fill="#1a1a1a"/><circle cx="398.15" cy="188.10" r="0.95" fill="#1a1a1a"/><circle cx="401.05" cy="188.10" r="0.95" fill="#1a1a1a"/><circle cx="403.95" cy="188.10" r="0.95" fill="#1a1a1a"/>
<line x1="423.30" y1="170.40" x2="423.30" y2="173.60" stroke="#333" stroke-width="0.9"/><line x1="443.40" y1="170.40" x2="443.40" y2="173.60" stroke="#333" stroke-width="0.9"/><line x1="423.30" y1="172.00" x2="443.40" y2="172.00" stroke="#333" stroke-width="0.9"/>
<circle cx="429.05" cy="167.20" r="0.95" fill="#1a1a1a"/><circle cx="431.95" cy="167.20" r="0.95" fill="#1a1a1a"/><circle cx="434.85" cy="167.20" r="0.95" fill="#1a1a1a"/><circle cx="437.75" cy="167.20" r="0.95" fill="#1a1a1a"/>
<line x1="458.30" y1="162.30" x2="458.30" y2="165.50" stroke="#333" stroke-width="0.9"/><line x1="477.50" y1="162.30" x2="477.50" y2="165.50" stroke="#333" stroke-width="0.9"/><line x1="458.30" y1="163.90" x2="477.50" y2="163.90" stroke="#333" stroke-width="0.9"/>
<circle cx="463.65" cy="158.30" r="0.95" fill="#1a1a1a"/><circle cx="466.55" cy="158.30" r="0.95" fill="#1a1a1a"/><circle cx="469.45" cy="158.30" r="0.95" fill="#1a1a1a"/><circle cx="472.35" cy="158.30" r="0.95" fill="#1a1a1a"/>
<text transform="translate(326.4,122.3) rotate(-90)" font-size="8.3" font-weight="bold" text-anchor="middle" fill="#000" textLength="60" lengthAdjust="spacingAndGlyphs">Total death (%)</text>
<text x="333.30" y="115.00" font-size="8.1" font-weight="normal" text-anchor="start" fill="#333" stroke="#333" stroke-width="0.22">C</text>
<text x="333.30" y="236.60" font-size="7.8" font-weight="normal" text-anchor="start" fill="#333" stroke="#333" stroke-width="0.22">D</text>
<rect x="438.5" y="7.15" width="10.6" height="5.3" rx="0.8" fill="#000"/>
<text x="453.70" y="12.40" font-size="7.1" font-weight="normal" text-anchor="start" fill="#111" stroke="#111" stroke-width="0.22" textLength="22.10" lengthAdjust="spacingAndGlyphs">Control</text>
<rect x="438.5" y="18.75" width="10.6" height="5.3" rx="0.8" fill="#000"/>
<rect x="440.60" y="20.60" width="6.40" height="1.60" fill="#c4c4c4"/>
<text x="453.70" y="24.00" font-size="7.1" font-weight="normal" text-anchor="start" fill="#111" stroke="#111" stroke-width="0.22" textLength="36.10" lengthAdjust="spacingAndGlyphs">25% DMSO</text>
<rect x="438.5" y="31.55" width="10.6" height="5.3" rx="0.8" fill="#000"/>
<rect x="440.60" y="33.40" width="6.40" height="1.60" fill="#fff"/>
<text x="453.70" y="36.80" font-size="7.1" font-weight="normal" text-anchor="start" fill="#111" stroke="#111" stroke-width="0.22" textLength="34.10" lengthAdjust="spacingAndGlyphs">0.35&#181;g/mL</text>
<rect x="438.5" y="43.55" width="10.6" height="5.3" rx="0.8" fill="#000"/>
<rect x="440.60" y="45.40" width="6.40" height="1.60" fill="#dcdcdc"/>
<text x="453.70" y="48.80" font-size="7.1" font-weight="normal" text-anchor="start" fill="#111" stroke="#111" stroke-width="0.22" textLength="34.10" lengthAdjust="spacingAndGlyphs">0.78&#181;g/mL</text>
<rect x="438.5" y="56.25" width="10.6" height="5.3" rx="0.8" fill="#000"/>
<rect x="440.60" y="58.10" width="6.40" height="1.60" fill="#6a6664"/>
<text x="453.70" y="61.50" font-size="7.1" font-weight="normal" text-anchor="start" fill="#111" stroke="#111" stroke-width="0.22" textLength="34.10" lengthAdjust="spacingAndGlyphs">1.56&#181;g/mL</text>
<rect x="399.10" y="128.55" width="9.0" height="4.9" rx="0.8" fill="#000"/>
<text x="413.00" y="133.50" font-size="6.9" font-weight="normal" text-anchor="start" fill="#111" stroke="#111" stroke-width="0.22" textLength="21.00" lengthAdjust="spacingAndGlyphs">Control</text>
<rect x="399.10" y="138.75" width="9.0" height="4.9" rx="0.8" fill="#000"/>
<rect x="401.00" y="140.45" width="5.20" height="1.50" fill="#c4c4c4"/>
<text x="413.00" y="143.70" font-size="6.9" font-weight="normal" text-anchor="start" fill="#111" stroke="#111" stroke-width="0.22" textLength="34.70" lengthAdjust="spacingAndGlyphs">25% DMSO</text>
<rect x="449.10" y="124.75" width="9.0" height="4.9" rx="0.8" fill="#000"/>
<rect x="451.00" y="126.45" width="5.20" height="1.50" fill="#fff"/>
<text x="461.60" y="129.70" font-size="6.9" font-weight="normal" text-anchor="start" fill="#111" stroke="#111" stroke-width="0.22" textLength="31.90" lengthAdjust="spacingAndGlyphs">0.35&#181;g/mL</text>
<rect x="449.10" y="135.65" width="9.0" height="4.9" rx="0.8" fill="#000"/>
<rect x="451.00" y="137.35" width="5.20" height="1.50" fill="#dcdcdc"/>
<text x="461.60" y="140.60" font-size="6.9" font-weight="normal" text-anchor="start" fill="#111" stroke="#111" stroke-width="0.22" textLength="31.90" lengthAdjust="spacingAndGlyphs">0.78&#181;g/mL</text>
<rect x="449.10" y="145.95" width="9.0" height="4.9" rx="0.8" fill="#000"/>
<rect x="451.00" y="147.65" width="5.20" height="1.50" fill="#6a6664"/>
<text x="461.60" y="150.90" font-size="6.9" font-weight="normal" text-anchor="start" fill="#111" stroke="#111" stroke-width="0.22" textLength="31.90" lengthAdjust="spacingAndGlyphs">1.56&#181;g/mL</text>
<rect x="535.30" y="193.20" width="14.00" height="31.70" fill="#000"/><rect x="548.60" y="164.70" width="14.00" height="60.20" fill="#000"/><rect x="561.90" y="174.20" width="14.00" height="50.70" fill="#000"/><rect x="581.40" y="183.60" width="14.00" height="41.30" fill="#000"/><rect x="594.70" y="166.00" width="14.00" height="58.90" fill="#000"/><rect x="608.00" y="157.80" width="14.00" height="67.10" fill="#000"/><rect x="627.10" y="192.30" width="14.00" height="32.60" fill="#000"/><rect x="640.40" y="180.20" width="14.00" height="44.70" fill="#000"/><rect x="653.70" y="168.00" width="14.00" height="56.90" fill="#000"/><rect x="537.25" y="194.90" width="10.10" height="30.00" fill="#ffffff"/><rect x="550.55" y="166.40" width="10.10" height="58.50" fill="#a6a6a6"/><rect x="583.35" y="185.30" width="10.10" height="39.60" fill="#ffffff"/><rect x="596.65" y="167.70" width="10.10" height="57.20" fill="#a6a6a6"/><rect x="629.05" y="194.00" width="10.10" height="30.90" fill="#ffffff"/><rect x="642.35" y="181.90" width="10.10" height="43.00" fill="#a6a6a6"/>
<line x1="542.30" y1="193.20" x2="542.30" y2="192.00" stroke="#333" stroke-width="1.0"/><line x1="539.80" y1="192.00" x2="544.80" y2="192.00" stroke="#111" stroke-width="1.15"/>
<line x1="555.60" y1="164.70" x2="555.60" y2="163.00" stroke="#333" stroke-width="1.0"/><line x1="553.10" y1="163.00" x2="558.10" y2="163.00" stroke="#111" stroke-width="1.15"/>
<line x1="568.90" y1="174.20" x2="568.90" y2="172.90" stroke="#333" stroke-width="1.0"/><line x1="566.40" y1="172.90" x2="571.40" y2="172.90" stroke="#111" stroke-width="1.15"/>
<line x1="588.40" y1="183.60" x2="588.40" y2="181.80" stroke="#333" stroke-width="1.0"/><line x1="585.90" y1="181.80" x2="590.90" y2="181.80" stroke="#111" stroke-width="1.15"/>
<line x1="601.70" y1="166.00" x2="601.70" y2="164.00" stroke="#333" stroke-width="1.0"/><line x1="599.20" y1="164.00" x2="604.20" y2="164.00" stroke="#111" stroke-width="1.15"/>
<line x1="615.00" y1="157.80" x2="615.00" y2="153.10" stroke="#333" stroke-width="1.0"/><line x1="612.50" y1="153.10" x2="617.50" y2="153.10" stroke="#111" stroke-width="1.15"/>
<line x1="634.10" y1="192.30" x2="634.10" y2="190.40" stroke="#333" stroke-width="1.0"/><line x1="631.60" y1="190.40" x2="636.60" y2="190.40" stroke="#111" stroke-width="1.15"/>
<line x1="647.40" y1="180.20" x2="647.40" y2="179.00" stroke="#333" stroke-width="1.0"/><line x1="644.90" y1="179.00" x2="649.90" y2="179.00" stroke="#111" stroke-width="1.15"/>
<line x1="660.70" y1="168.00" x2="660.70" y2="167.30" stroke="#333" stroke-width="1.0"/><line x1="658.20" y1="167.30" x2="663.20" y2="167.30" stroke="#111" stroke-width="1.15"/>
<line x1="529.20" y1="128.50" x2="529.20" y2="225.70" stroke="#000" stroke-width="1.6"/>
<line x1="528.40" y1="224.90" x2="675.30" y2="224.90" stroke="#000" stroke-width="1.6"/>
<line x1="525.40" y1="224.90" x2="529.20" y2="224.90" stroke="#000" stroke-width="1.5"/>
<text x="523.80" y="227.75" font-size="7.9" font-weight="bold" text-anchor="end" fill="#111" stroke="#111" stroke-width="0.12">0</text>
<line x1="525.40" y1="201.00" x2="529.20" y2="201.00" stroke="#000" stroke-width="1.5"/>
<text x="523.80" y="203.85" font-size="7.9" font-weight="bold" text-anchor="end" fill="#111" stroke="#111" stroke-width="0.12">10</text>
<line x1="525.40" y1="177.10" x2="529.20" y2="177.10" stroke="#000" stroke-width="1.5"/>
<text x="523.80" y="179.95" font-size="7.9" font-weight="bold" text-anchor="end" fill="#111" stroke="#111" stroke-width="0.12">20</text>
<line x1="525.40" y1="153.20" x2="529.20" y2="153.20" stroke="#000" stroke-width="1.5"/>
<text x="523.80" y="156.05" font-size="7.9" font-weight="bold" text-anchor="end" fill="#111" stroke="#111" stroke-width="0.12">30</text>
<line x1="525.40" y1="129.30" x2="529.20" y2="129.30" stroke="#000" stroke-width="1.5"/>
<text x="523.80" y="130.25" font-size="7.9" font-weight="bold" text-anchor="end" fill="#111" stroke="#111" stroke-width="0.12">40</text>
<line x1="542.30" y1="224.90" x2="542.30" y2="228.70" stroke="#000" stroke-width="1.5"/>
<line x1="555.60" y1="224.90" x2="555.60" y2="228.70" stroke="#000" stroke-width="1.5"/>
<line x1="568.90" y1="224.90" x2="568.90" y2="228.70" stroke="#000" stroke-width="1.5"/>
<line x1="588.40" y1="224.90" x2="588.40" y2="228.70" stroke="#000" stroke-width="1.5"/>
<line x1="601.70" y1="224.90" x2="601.70" y2="228.70" stroke="#000" stroke-width="1.5"/>
<line x1="615.00" y1="224.90" x2="615.00" y2="228.70" stroke="#000" stroke-width="1.5"/>
<line x1="634.10" y1="224.90" x2="634.10" y2="228.70" stroke="#000" stroke-width="1.5"/>
<line x1="647.40" y1="224.90" x2="647.40" y2="228.70" stroke="#000" stroke-width="1.5"/>
<line x1="660.70" y1="224.90" x2="660.70" y2="228.70" stroke="#000" stroke-width="1.5"/>
<line x1="542.30" y1="231.40" x2="542.30" y2="233.10" stroke="#444" stroke-width="1.0"/><line x1="568.90" y1="231.40" x2="568.90" y2="233.10" stroke="#444" stroke-width="1.0"/><line x1="541.80" y1="233.10" x2="569.40" y2="233.10" stroke="#444" stroke-width="1.0"/>
<text x="541.40" y="240.20" font-size="6.5" font-weight="normal" text-anchor="start" fill="#222" stroke="#222" stroke-width="0.22" textLength="33.20" lengthAdjust="spacingAndGlyphs">0.35 &#181;g/mL</text>
<line x1="588.40" y1="231.40" x2="588.40" y2="233.10" stroke="#444" stroke-width="1.0"/><line x1="615.00" y1="231.40" x2="615.00" y2="233.10" stroke="#444" stroke-width="1.0"/><line x1="587.90" y1="233.10" x2="615.50" y2="233.10" stroke="#444" stroke-width="1.0"/>
<text x="588.10" y="240.20" font-size="6.5" font-weight="normal" text-anchor="start" fill="#222" stroke="#222" stroke-width="0.22" textLength="33.20" lengthAdjust="spacingAndGlyphs">0.78 &#181;g/mL</text>
<line x1="634.10" y1="231.40" x2="634.10" y2="233.10" stroke="#444" stroke-width="1.0"/><line x1="660.70" y1="231.40" x2="660.70" y2="233.10" stroke="#444" stroke-width="1.0"/><line x1="633.60" y1="233.10" x2="661.20" y2="233.10" stroke="#444" stroke-width="1.0"/>
<text x="634.00" y="240.20" font-size="6.5" font-weight="normal" text-anchor="start" fill="#222" stroke="#222" stroke-width="0.22" textLength="31.90" lengthAdjust="spacingAndGlyphs">1.56 &#181;g/mL</text>
<line x1="541.80" y1="141.55" x2="541.80" y2="183.00" stroke="#666" stroke-width="0.9"/><line x1="541.80" y1="142.00" x2="568.20" y2="142.00" stroke="#2a2a2a" stroke-width="0.9"/><line x1="568.20" y1="141.55" x2="568.20" y2="172.40" stroke="#2a2a2a" stroke-width="0.9"/>
<circle cx="550.15" cy="138.90" r="0.95" fill="#1a1a1a"/><circle cx="553.05" cy="138.90" r="0.95" fill="#1a1a1a"/><circle cx="555.95" cy="138.90" r="0.95" fill="#1a1a1a"/><circle cx="558.85" cy="138.90" r="0.95" fill="#1a1a1a"/>
<line x1="541.80" y1="153.85" x2="541.80" y2="154.30" stroke="#888" stroke-width="0.9"/><line x1="541.80" y1="154.30" x2="554.80" y2="154.30" stroke="#888" stroke-width="0.9"/><line x1="554.80" y1="153.85" x2="554.80" y2="157.20" stroke="#888" stroke-width="0.9"/>
<circle cx="544.85" cy="151.50" r="0.95" fill="#1a1a1a"/><circle cx="547.75" cy="151.50" r="0.95" fill="#1a1a1a"/><circle cx="550.65" cy="151.50" r="0.95" fill="#1a1a1a"/><circle cx="553.55" cy="151.50" r="0.95" fill="#1a1a1a"/>
<line x1="587.60" y1="142.45" x2="587.60" y2="180.90" stroke="#666" stroke-width="0.9"/><line x1="587.60" y1="142.90" x2="614.80" y2="142.90" stroke="#2a2a2a" stroke-width="0.9"/><line x1="614.80" y1="142.45" x2="614.80" y2="148.60" stroke="#2a2a2a" stroke-width="0.9"/>
<circle cx="596.25" cy="139.20" r="0.95" fill="#1a1a1a"/><circle cx="599.15" cy="139.20" r="0.95" fill="#1a1a1a"/><circle cx="602.05" cy="139.20" r="0.95" fill="#1a1a1a"/><circle cx="604.95" cy="139.20" r="0.95" fill="#1a1a1a"/>
<line x1="587.60" y1="151.35" x2="587.60" y2="151.80" stroke="#888" stroke-width="0.9"/><line x1="587.60" y1="151.80" x2="601.20" y2="151.80" stroke="#888" stroke-width="0.9"/><line x1="601.20" y1="151.35" x2="601.20" y2="162.30" stroke="#888" stroke-width="0.9"/>
<circle cx="590.25" cy="148.80" r="0.95" fill="#1a1a1a"/><circle cx="593.15" cy="148.80" r="0.95" fill="#1a1a1a"/><circle cx="596.05" cy="148.80" r="0.95" fill="#1a1a1a"/><circle cx="598.95" cy="148.80" r="0.95" fill="#1a1a1a"/>
<line x1="634.00" y1="154.45" x2="634.00" y2="189.60" stroke="#666" stroke-width="0.9"/><line x1="634.00" y1="154.90" x2="660.70" y2="154.90" stroke="#2a2a2a" stroke-width="0.9"/><line x1="660.70" y1="154.45" x2="660.70" y2="162.80" stroke="#2a2a2a" stroke-width="0.9"/>
<circle cx="642.25" cy="151.20" r="0.95" fill="#1a1a1a"/><circle cx="645.15" cy="151.20" r="0.95" fill="#1a1a1a"/><circle cx="648.05" cy="151.20" r="0.95" fill="#1a1a1a"/><circle cx="650.95" cy="151.20" r="0.95" fill="#1a1a1a"/>
<line x1="634.00" y1="169.35" x2="634.00" y2="169.80" stroke="#888" stroke-width="0.9"/><line x1="634.00" y1="169.80" x2="647.60" y2="169.80" stroke="#888" stroke-width="0.9"/><line x1="647.60" y1="169.35" x2="647.60" y2="176.00" stroke="#888" stroke-width="0.9"/>
<circle cx="639.55" cy="165.50" r="0.95" fill="#1a1a1a"/><circle cx="642.45" cy="165.50" r="0.95" fill="#1a1a1a"/>
<text x="509.50" y="236.80" font-size="8.0" font-weight="normal" text-anchor="start" fill="#333" stroke="#333" stroke-width="0.22">E</text>
<rect x="621.4" y="113.05" width="9.6" height="4.9" rx="0.8" fill="#000"/>
<rect x="623.40" y="114.75" width="5.60" height="1.50" fill="#fff"/>
<text x="635.00" y="118.10" font-size="7.1" font-weight="normal" text-anchor="start" fill="#111" stroke="#111" stroke-width="0.22" textLength="18.20" lengthAdjust="spacingAndGlyphs">CVDL</text>
<rect x="621.4" y="124.05" width="9.6" height="4.9" rx="0.8" fill="#000"/>
<rect x="623.40" y="125.75" width="5.60" height="1.50" fill="#c4c4c4"/>
<text x="635.00" y="129.10" font-size="7.1" font-weight="normal" text-anchor="start" fill="#111" stroke="#111" stroke-width="0.22" textLength="28.60" lengthAdjust="spacingAndGlyphs">NP CVDL</text>
<rect x="621.4" y="134.95" width="9.6" height="4.9" rx="0.8" fill="#000"/>
<text x="635.00" y="140.00" font-size="7.1" font-weight="normal" text-anchor="start" fill="#111" stroke="#111" stroke-width="0.22" textLength="48.50" lengthAdjust="spacingAndGlyphs">NP CVDL CHOL</text>
</svg>
</body></html>
